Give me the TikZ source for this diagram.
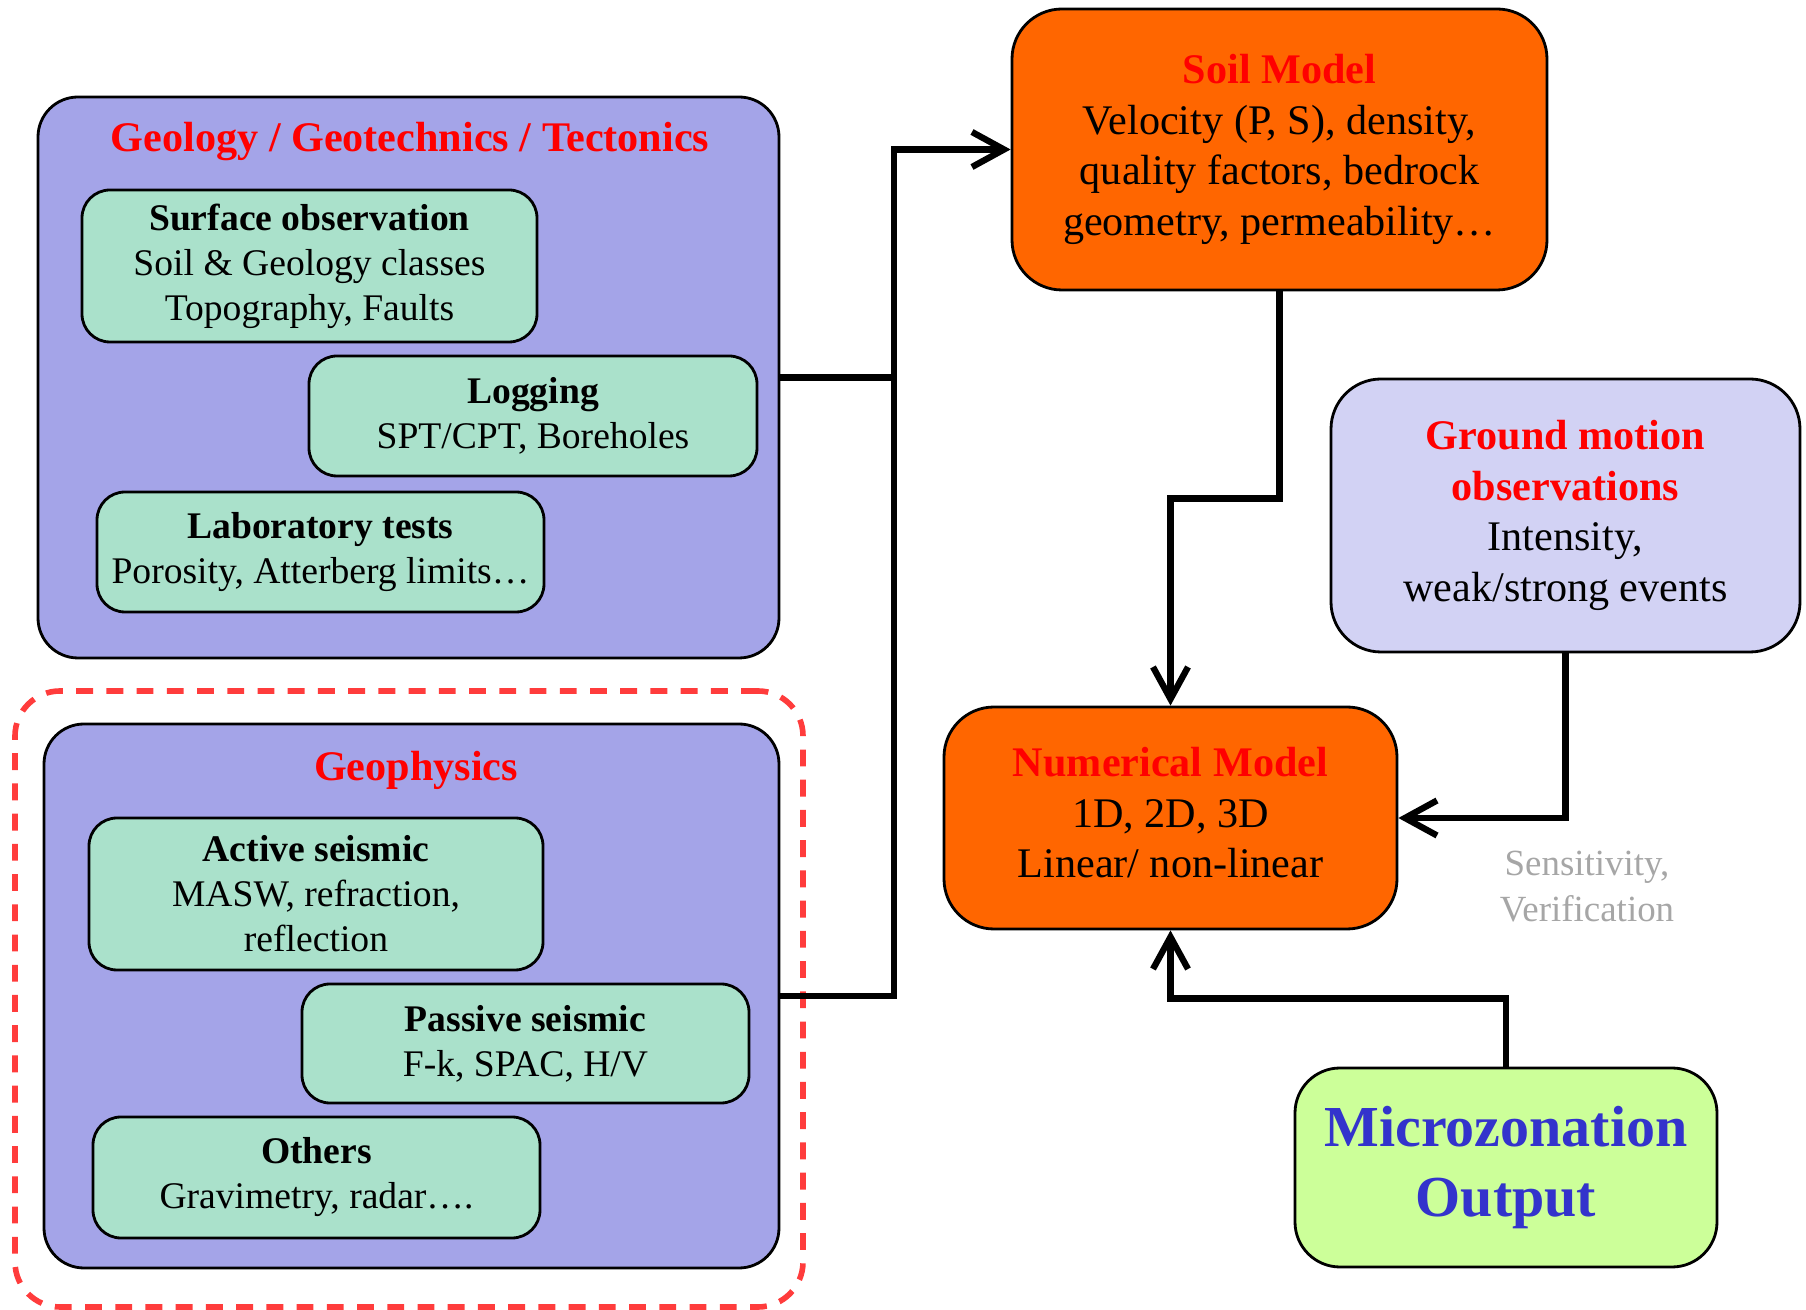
\documentclass[tikz,border=0pt]{standalone}
\usepackage{fontspec}
\setmainfont{Liberation Serif}
\usepackage{xcolor}
\definecolor{geoblue}{RGB}{164,164,232}
\definecolor{mint}{RGB}{170,225,203}
\definecolor{soilorange}{RGB}{255,102,0}
\definecolor{lavender}{RGB}{210,210,244}
\definecolor{lime}{RGB}{204,255,153}
\definecolor{zoneblue}{RGB}{51,51,204}
\definecolor{dashred}{RGB}{255,60,60}
\definecolor{softgray}{RGB}{166,166,166}
\usetikzlibrary{arrows.meta,calc}
\newcommand{\redtitle}[1]{\textcolor{red}{\textbf{#1}}}

\begin{document}
\begin{tikzpicture}[auto,>={Straight Barb[length=3.2mm,width=3.5mm]}]
%\draw [help lines] (0,0) grid (18,13);
\tikzset{
	bigbox/.style={
		rectangle,
		inner sep=0pt,
		rounded corners=0.4cm,
		draw=black,
		line width=0.8pt,
		fill=geoblue
	},
	smallbox/.style={
		rectangle,
		inner sep=0pt,
		rounded corners=0.28cm,
		align=center,
		draw=black,
		line width=0.8pt,
		fill=mint,
		font=\fontsize{10.7}{12.8}\selectfont
	},
	modelbox/.style={
		rectangle,
		inner sep=0pt,
		rounded corners=0.5cm,
		align=center,
		draw=black,
		line width=0.8pt,
		fill=soilorange,
		font=\fontsize{12}{14.4}\selectfont
	},
	obsbox/.style={
		rectangle,
		inner sep=0pt,
		rounded corners=0.5cm,
		align=center,
		draw=black,
		line width=0.8pt,
		fill=lavender,
		font=\fontsize{12}{14.4}\selectfont
	},
	outbox/.style={
		rectangle,
		inner sep=0pt,
		rounded corners=0.45cm,
		align=center,
		draw=black,
		line width=0.8pt,
		fill=lime,
		text=zoneblue,
		font=\fontsize{16.5}{20}\selectfont\bfseries
	},
	bigtitle/.style={
		align=center,
		inner sep=0pt,
		font=\fontsize{12}{14.4}\selectfont
	},
	link/.style={
		line width=1.8pt
	},
}
\useasboundingbox (0,0) rectangle (18.06,13.10);

% dashed frame round the geophysics part
\node (frame) [rectangle, rounded corners=0.45cm, draw=dashred, line width=1.6pt,
  dash pattern=on 4.8pt off 3.8pt, minimum width=7.88cm, minimum height=6.16cm]
  at (4.09,3.11) {};

\node (geo) [bigbox, minimum width=7.41cm, minimum height=5.61cm] at (4.085,9.325) {};
\node (geotitle) [bigtitle] at (4.10,11.68) {\redtitle{Geology / Geotechnics / Tectonics}};
\node (surf) [smallbox, minimum width=4.55cm, minimum height=1.52cm] at (3.095,10.44)
  {\textbf{Surface observation}\\ Soil \& Geology classes\\ Topography, Faults};
\node (log) [smallbox, minimum width=4.48cm, minimum height=1.20cm] at (5.33,8.94)
  {\textbf{Logging}\\ SPT/CPT, Boreholes};
\node (lab) [smallbox, minimum width=4.47cm, minimum height=1.20cm] at (3.205,7.58)
  {\textbf{Laboratory tests}\\ Porosity, Atterberg limits\dots};

\node (phys) [bigbox, minimum width=7.35cm, minimum height=5.44cm] at (4.115,3.14) {};
\node (phystitle) [bigtitle] at (4.16,5.40) {\redtitle{Geophysics}};
\node (active) [smallbox, minimum width=4.54cm, minimum height=1.52cm] at (3.16,4.16)
  {\textbf{Active seismic}\\ MASW, refraction,\\ reflection};
\node (passive) [smallbox, minimum width=4.47cm, minimum height=1.19cm] at (5.255,2.665)
  {\textbf{Passive seismic}\\ F-k, SPAC, H/V};
\node (others) [smallbox, minimum width=4.47cm, minimum height=1.21cm] at (3.165,1.325)
  {\textbf{Others}\\ Gravimetry, radar\dots.};

\node (soil) [modelbox, minimum width=5.35cm, minimum height=2.81cm] at (12.795,11.605)
  {\redtitle{Soil Model}\\ Velocity (P, S), density,\\ quality factors, bedrock\\ geometry, permeability\dots\rule[-2pt]{0pt}{2pt}};
\node (gm) [obsbox, minimum width=4.69cm, minimum height=2.73cm] at (15.655,7.945)
  {\redtitle{Ground motion}\\ \redtitle{observations}\\ Intensity,\\ weak/strong events};
\node (num) [modelbox, minimum width=4.53cm, minimum height=2.22cm] at (11.705,4.92)
  {\redtitle{Numerical Model}\\ 1D, 2D, 3D\\ Linear/ non-linear\rule[-3pt]{0pt}{3pt}};
\node (micro) [outbox, minimum width=4.22cm, minimum height=1.99cm] at (15.06,1.425)
  {Microzonation\\ Output};
\node (sens) [align=center, text=softgray, font=\fontsize{10.5}{13.1}\selectfont] at (15.87,4.23)
  {Sensitivity,\\ Verification};

\coordinate (bus) at (8.94,0);
\draw [link] (geo.east) -- (geo.east -| bus);
\draw [link,->] (phys.east) -- (phys.east -| bus) |- (soil.west);
\draw [link,->] (soil.south) |- ($(soil.south)!0.5!(num.north)$) -| (num.north);
\draw [link,->] (gm.south) |- (num.east);
\draw [link,->] (micro.north) |- ($(micro.north)!0.5!(num.south)$) -| (num.south);
\end{tikzpicture}
\end{document}
